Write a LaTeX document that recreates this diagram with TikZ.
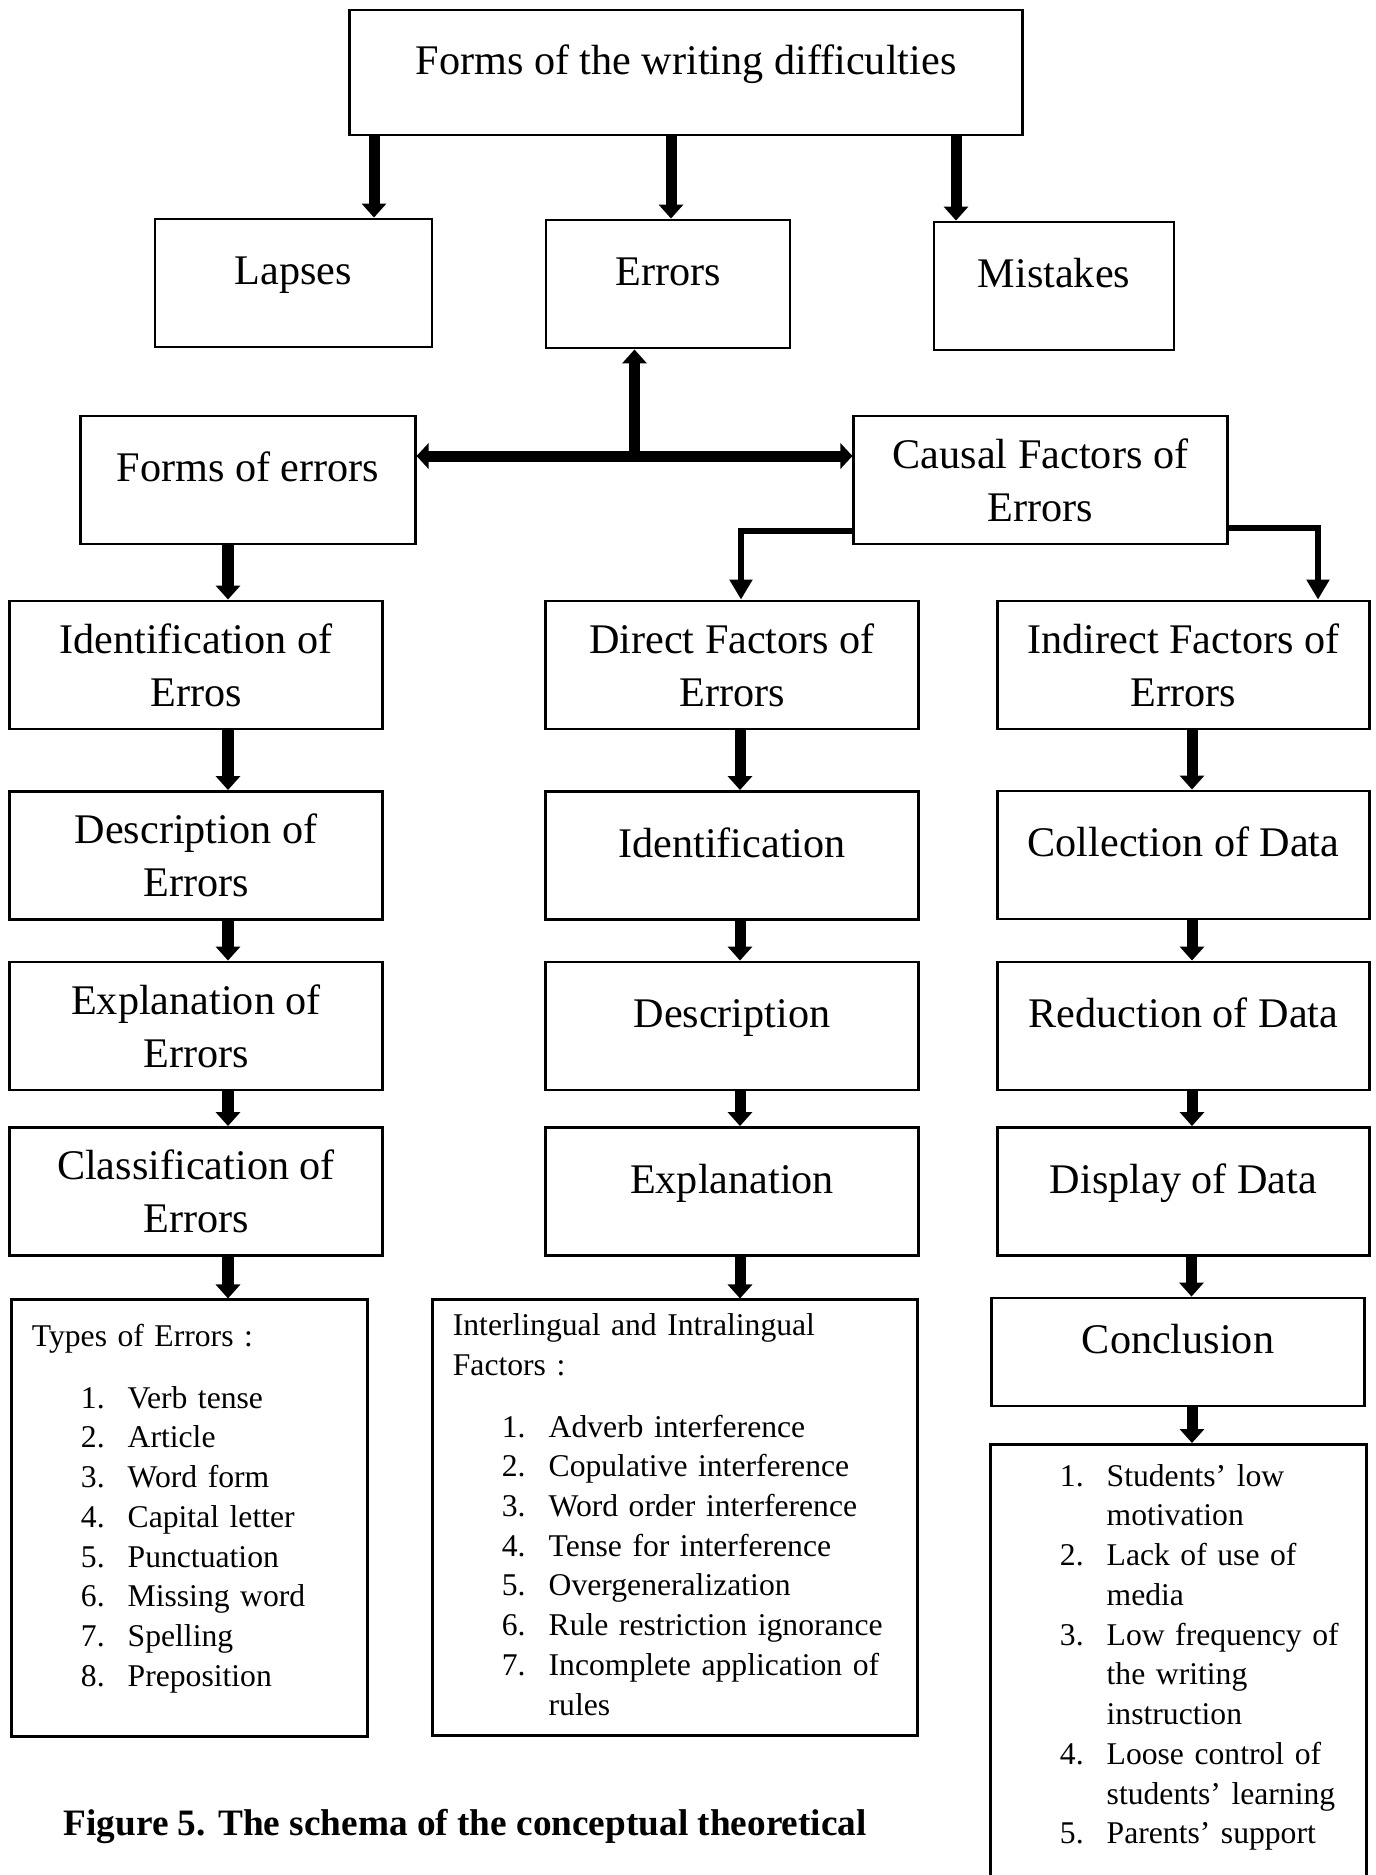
\documentclass[tikz,border=0pt]{standalone}
\usepackage{fontspec}
\setmainfont{Liberation Serif}
\usetikzlibrary{arrows.meta,calc}
\tikzset{
  box/.style={draw,line width=0.8pt,rectangle,inner sep=0pt,align=center,font=\fontsize{12}{15}\selectfont},
  cell/.style={box,minimum width=3.72cm,minimum height=1.28cm},
  oneline/.style={text height=8.5pt,text depth=7.5pt},
  listbox/.style={draw,line width=0.8pt,rectangle,inner xsep=0.2cm,align=left,font=\fontsize{9}{11.3}\selectfont},
  arr/.style={-{Triangle[width=0.24cm,length=0.14cm]},line width=0.11cm},
  darr/.style={{Triangle[width=0.25cm,length=0.12cm]}-{Triangle[width=0.25cm,length=0.12cm]},line width=0.11cm},
  elbow/.style={-{Triangle[width=0.22cm,length=0.2cm]},line width=0.06cm},
  figcap/.style={font=\bfseries\fontsize{10.6}{13}\selectfont,inner sep=0pt},
}

\begin{document}
\begin{tikzpicture}[x=0.01cm,y=-0.01cm]
  \clip (0,0) rectangle (1376,1875);

  % TOP
  \node[box,oneline,minimum width=6.72cm,minimum height=1.25cm] (top) at (686,72.5) {Forms of the writing difficulties};
  \node[box,oneline,minimum width=2.77cm,minimum height=1.28cm] (lapses)   at (293.5,283) {Lapses};
  \node[box,oneline,minimum width=2.44cm,minimum height=1.28cm] (errors)   at (668,284)   {Errors};
  \node[box,oneline,minimum width=2.40cm,minimum height=1.28cm] (mistakes) at (1054,286)  {Mistakes};
  \draw[arr] ($(top.south -| lapses.north)+(80.5,0)$) -- ($(lapses.north)+(80.5,0)$);
  \draw[arr] ($(top.south -| errors.north)+(3,0)$) -- ($(errors.north)+(3,0)$);
  \draw[arr] ($(top.south -| mistakes.north)+(-98,0)$) -- ($(mistakes.north)+(-98,0)$);

  % FORMS AND CAUSES
  \node[box,oneline,minimum width=3.34cm,minimum height=1.28cm] (forms)  at (248,480)    {Forms of errors};
  \node[box,minimum width=3.73cm,minimum height=1.28cm]         (causal) at (1040.5,480) {Causal Factors of\\Errors};
  \draw[darr] ($(forms.east)+(0,-24)$) -- ($(causal.west)+(0,-24)$);
  \coordinate (hub) at ($(forms.east)!0.5!(causal.west)+(0,-24)$);
  \draw[arr] (hub) -- (hub |- errors.south);

  % LEFT COLUMN
  \node[cell] (identE) at (196,665)    {Identification of\\Erros};
  \node[cell] (descE)  at (196,855.5)  {Description of\\Errors};
  \node[cell] (explE)  at (196,1026)   {Explanation of\\Errors};
  \node[cell] (classE) at (196,1191.5) {Classification of\\Errors};
  \draw[arr] ($(forms.south)+(-20,0)$) -- ($(forms.south |- identE.north)+(-20,0)$);
  \draw[arr] ($(identE.south)+(32,0)$) -- ($(descE.north)+(32,0)$);
  \draw[arr] ($(descE.south)+(32,0)$) -- ($(explE.north)+(32,0)$);
  \draw[arr] ($(explE.south)+(32,0)$) -- ($(classE.north)+(32,0)$);

  % MIDDLE COLUMN
  \node[cell]         (direct) at (732,665)    {Direct Factors of\\Errors};
  \node[cell,oneline] (ident)  at (732,855.5)  {Identification};
  \node[cell,oneline] (descr)  at (732,1026)   {Description};
  \node[cell,oneline] (expl)   at (732,1191.5) {Explanation};
  \draw[elbow] ($(causal.west)+(0,51)$) -| ($(direct.north)+(9,0)$);
  \draw[arr] ($(direct.south)+(8,0)$) -- ($(ident.north)+(8,0)$);
  \draw[arr] ($(ident.south)+(8,0)$) -- ($(descr.north)+(8,0)$);
  \draw[arr] ($(descr.south)+(8,0)$) -- ($(expl.north)+(8,0)$);

  % RIGHT COLUMN
  \node[cell]         (indirect) at (1183.5,665)    {Indirect Factors of\\Errors};
  \node[cell,oneline] (collect)  at (1183.5,855)    {Collection of Data};
  \node[cell,oneline] (reduce)   at (1183.5,1026)   {Reduction of Data};
  \node[cell,oneline] (display)  at (1183.5,1191.5) {Display of Data};
  \node[cell,oneline,minimum height=1.08cm] (concl) at (1178,1352) {Conclusion};
  \draw[elbow] ($(causal.east)+(0,48)$) -| ($(indirect.north)+(134.5,0)$);
  \draw[arr] ($(indirect.south)+(8.5,0)$) -- ($(collect.north)+(8.5,0)$);
  \draw[arr] ($(collect.south)+(8.5,0)$) -- ($(reduce.north)+(8.5,0)$);
  \draw[arr] ($(reduce.south)+(8.5,0)$) -- ($(display.north)+(8.5,0)$);
  \draw[arr] ($(display.south)+(8,0)$) -- ($(display.south |- concl.north)+(8,0)$);

  % LISTS
  \node[listbox,text width=3.15cm,minimum height=4.36cm] (types) at (189.5,1518) {\noindent
    \begin{tabular}{@{\hspace{0.49cm}}r@{\hspace{0.23cm}}l@{}}
      \multicolumn{2}{@{}l@{}}{Types of Errors :}\\[6.2pt]
      1. & Verb tense\\
      2. & Article\\
      3. & Word form\\
      4. & Capital letter\\
      5. & Punctuation\\
      6. & Missing word\\
      7. & Spelling\\
      8. & Preposition\\[5.4pt]
    \end{tabular}};
  \node[listbox,text width=4.44cm,inner ysep=1pt,minimum height=4.35cm] (inter) at (675,1517.5) {\noindent
    \begin{tabular}{@{\hspace{0.49cm}}r@{\hspace{0.23cm}}l@{}}
      \multicolumn{2}{@{}l@{}}{Interlingual and Intralingual}\\
      \multicolumn{2}{@{}l@{}}{Factors :}\\[6.2pt]
      1. & Adverb interference\\
      2. & Copulative interference\\
      3. & Word order interference\\
      4. & Tense for interference\\
      5. & Overgeneralization\\
      6. & Rule restriction ignorance\\
      7. & Incomplete application of\\
         & rules
    \end{tabular}};
  \node[listbox,text width=3.35cm,inner ysep=0.14cm,anchor=north] (reasons) at (1178.5,1443) {\noindent
    \begin{tabular}{@{\hspace{0.49cm}}r@{\hspace{0.23cm}}l@{}}
      1. & Students’ low\\
         & motivation\\
      2. & Lack of use of\\
         & media\\
      3. & Low frequency of\\
         & the writing\\
         & instruction\\
      4. & Loose control of\\
         & students’ learning\\
      5. & Parents’ support\\[1cm]
    \end{tabular}};
  \draw[arr] ($(classE.south)+(32,0)$) -- ($(classE.south |- types.north)+(32,0)$);
  \draw[arr] ($(expl.south)+(8,0)$) -- ($(expl.south |- inter.north)+(8,0)$);
  \draw[arr] ($(concl.south)+(14,0)$) -- ($(concl.south |- reasons.north)+(14,0)$);

  \node[figcap,anchor=base west] (cap) at (63,1835) {Figure 5. The schema of the conceptual theoretical};

\end{tikzpicture}
\end{document}
